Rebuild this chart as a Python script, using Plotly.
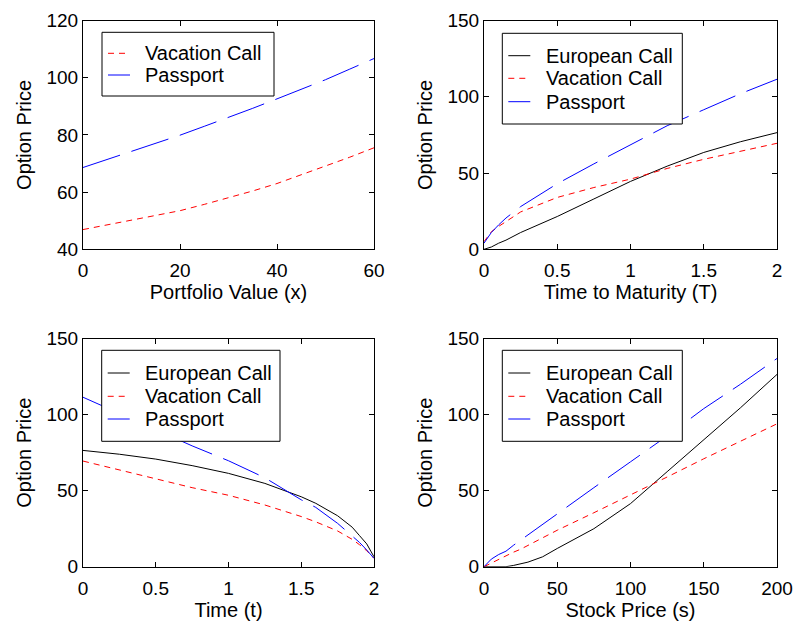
import plotly.graph_objects as go
from plotly.subplots import make_subplots

# ---- data ----
x_pv = [0, 5, 10, 15, 20, 25, 30, 35, 40, 45, 50, 55, 60]
vac_tl = [46.9, 48.5, 50.2, 51.8, 53.5, 55.7, 58.0, 60.4, 63.0, 66.0, 69.1, 72.2, 75.5]
pas_tl = [68.6, 71.4, 74.3, 77.0, 79.9, 83.0, 86.1, 89.3, 92.6, 95.9, 99.3, 103.0, 106.7]

t_mat = [0, 0.05, 0.1, 0.15, 0.25, 0.5, 0.75, 1.0, 1.25, 1.5, 1.75, 2.0]
eur_tr = [0, 1.5, 4, 6, 11, 21.5, 33, 44.5, 54.5, 63.5, 70.5, 76.5]
vac_tr = [5, 11.5, 15, 18, 24.5, 34, 40.5, 46, 53, 59, 64, 69.5]
pas_tr = [4, 11, 16, 20.5, 28, 43, 56, 68.5, 81, 91.5, 102, 111.5]

t_now = [0, 0.25, 0.5, 0.75, 1.0, 1.25, 1.5, 1.6, 1.75, 1.85, 1.9, 1.95, 2.0]
eur_bl = [76.5, 74, 70.8, 66.5, 61.4, 54.8, 46, 41.7, 33.5, 26, 20.5, 15, 6.5]
vac_bl = [69.5, 63.5, 57.5, 52, 47, 40.6, 33, 29.5, 23.5, 18, 14.5, 10.5, 5.5]
pas_bl = [111.5, 101, 90, 79.5, 69.7, 58.5, 44, 39, 28.5, 20.5, 16, 11, 5.5]

s_px = [0, 5, 10, 15, 20, 25, 30, 40, 50, 75, 100, 125, 150, 175, 200]
eur_br = [0, 0, 0, 0, 0.8, 1.8, 3, 6.5, 12, 25, 41.5, 62.5, 83.5, 104.5, 126.5]
vac_br = [0, 2.5, 5, 7.5, 9.5, 11.5, 14, 19, 24, 35.5, 47, 59, 71, 82.5, 94]
pas_br = [0, 5, 8, 10.2, 14, 17.5, 21, 28, 35, 52, 69, 86, 104, 120, 137]

x_titles = ["Portfolio Value (x)", "Time to Maturity (T)", "Time (t)", "Stock Price (s)"]
y_title = "Option Price"
series_names = ["European Call", "Vacation Call", "Passport"]

FONT = "Liberation Sans, Arial, Helvetica, sans-serif"
STYLE = {
    "European Call": dict(color="#000000", width=1, dash="solid"),
    "Vacation Call": dict(color="#ff0000", width=1, dash="6px,5px"),
    "Passport": dict(color="#0000ff", width=1, dash="39px,12px"),
}

W, H = 794, 625
fig = make_subplots(rows=2, cols=2)

panels = [
    (1, 1, x_pv, {"Vacation Call": vac_tl, "Passport": pas_tl}),
    (1, 2, t_mat, {"European Call": eur_tr, "Vacation Call": vac_tr, "Passport": pas_tr}),
    (2, 1, t_now, {"European Call": eur_bl, "Vacation Call": vac_bl, "Passport": pas_bl}),
    (2, 2, s_px, {"European Call": eur_br, "Vacation Call": vac_br, "Passport": pas_br}),
]
for row, col, xs, series in panels:
    for name in series_names:
        if name in series:
            fig.add_trace(go.Scatter(x=xs, y=series[name], name=name, mode="lines",
                                     line=STYLE[name], showlegend=False), row=row, col=col)

xd = [[83 / W, 374 / W], [484 / W, 777 / W]]
yd = [[1 - 249.3 / H, 1 - 20.5 / H], [1 - 566.7 / H, 1 - 338.7 / H]]

axis_common = dict(showline=True, linecolor="black", linewidth=1, mirror="ticks",
                   ticks="inside", ticklen=5, tickcolor="black", tickwidth=1,
                   showgrid=False, zeroline=False, automargin=False,
                   tickfont=dict(family=FONT, size=19, color="black"))

xranges = [[0, 60], [0, 2], [0, 2], [0, 200]]
xdticks = [20, 0.5, 0.5, 50]
yranges = [[40, 120], [0, 150], [0, 150], [0, 150]]
ydticks = [20, 50, 50, 50]

for i in range(4):
    r, c = divmod(i, 2)
    sfx = "" if i == 0 else str(i + 1)
    fig.layout["xaxis" + sfx].update(domain=xd[c], range=xranges[i], dtick=xdticks[i], tick0=0,
                                     ticklabelstandoff=4,
                                     title=dict(text=x_titles[i], standoff=4,
                                                font=dict(family=FONT, size=20, color="black")),
                                     **axis_common)
    fig.layout["yaxis" + sfx].update(domain=yd[r], range=yranges[i], dtick=ydticks[i], tick0=0,
                                     title=dict(text=y_title, standoff=9,
                                                font=dict(family=FONT, size=20, color="black")),
                                     **axis_common)

# ---- legend boxes (drawn as layout decorations, in pixel positions) ----
legend_boxes = [
    dict(box=(102, 32.3, 274, 96), rows=[53.3, 75], items=["Vacation Call", "Passport"], tx=145),
    dict(box=(502.3, 33.3, 682.3, 124), rows=[55.7, 78.3, 101.7], items=series_names, tx=546),
    dict(box=(101.7, 350.3, 280, 441.3), rows=[373, 396.3, 419], items=series_names, tx=145),
    dict(box=(502.3, 350.3, 682.3, 441.3), rows=[373, 396.3, 419], items=series_names, tx=546),
]

def px(x):
    return x / W

def py(y):
    return 1 - y / H

shapes = []
annotations = []
for lg in legend_boxes:
    x0, y0, x1, y1 = lg["box"]
    shapes.append(dict(type="rect", xref="paper", yref="paper", x0=px(x0), x1=px(x1),
                       y0=py(y1), y1=py(y0), line=dict(color="black", width=1),
                       fillcolor="white", layer="above"))
    for name, ry in zip(lg["items"], lg["rows"]):
        shapes.append(dict(type="line", xref="paper", yref="paper", x0=px(x0 + 6), x1=px(x0 + 28),
                           y0=py(ry), y1=py(ry), line=STYLE[name], layer="above"))
        annotations.append(dict(text=name, xref="paper", yref="paper", x=px(lg["tx"]), y=py(ry),
                                xanchor="left", yanchor="middle", showarrow=False,
                                borderpad=0, borderwidth=0,
                                font=dict(family=FONT, size=20, color="black")))

fig.update_layout(
    width=W, height=H, template="none",
    margin=dict(l=0, r=0, t=0, b=0, pad=0),
    paper_bgcolor="white", plot_bgcolor="white",
    font=dict(family=FONT, size=20, color="black"),
    showlegend=False,
    shapes=shapes, annotations=annotations,
)

fig.write_html("out.html")
